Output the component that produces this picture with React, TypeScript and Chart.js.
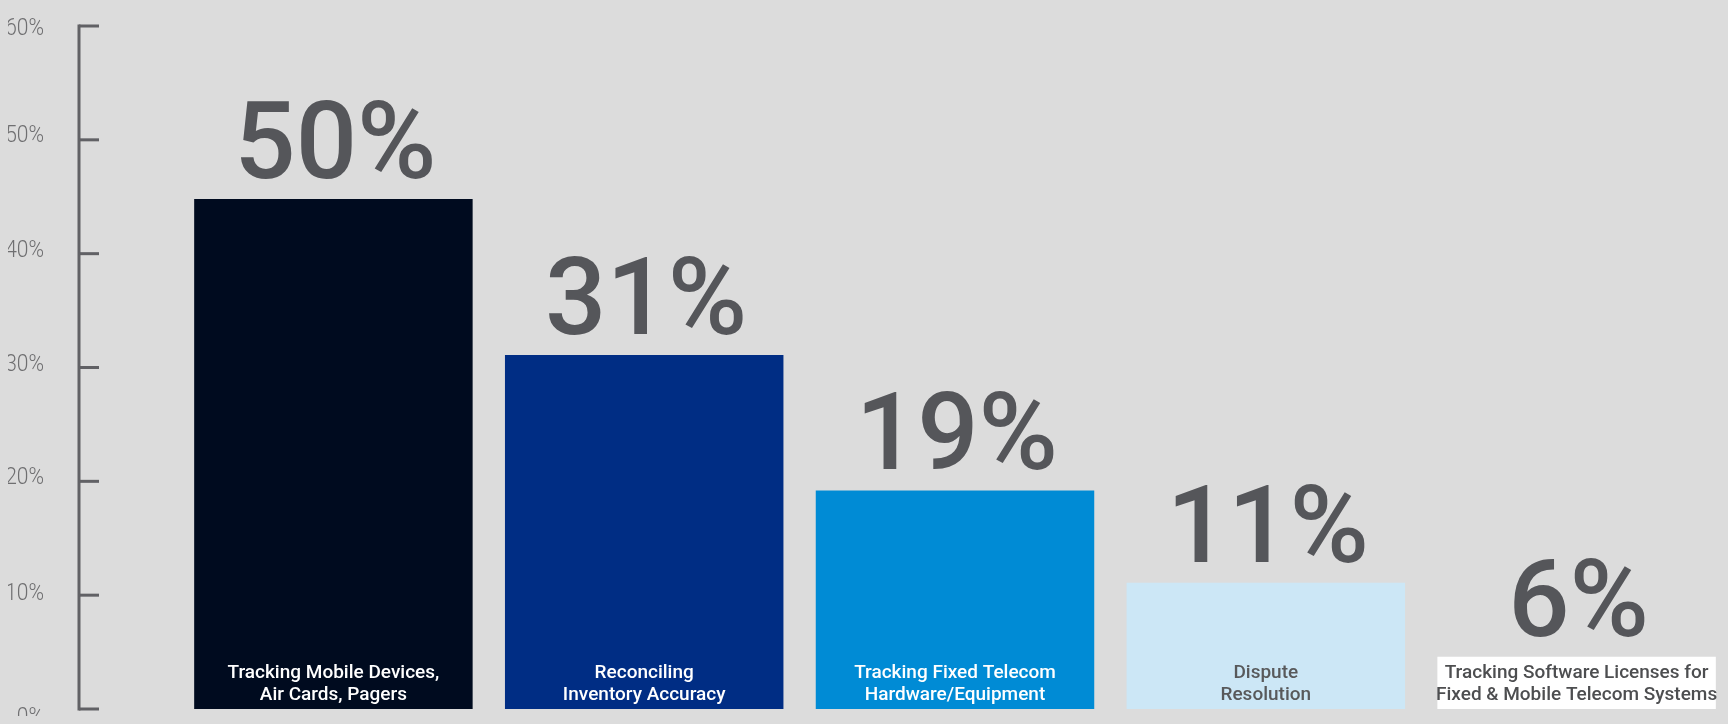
import React, { useEffect, useRef } from "react";
import { Chart, registerables } from "chart.js";

Chart.register(...registerables);

const categories: string[][] = [
  ["Tracking Mobile Devices,", "Air Cards, Pagers"],
  ["Reconciling", "Inventory Accuracy"],
  ["Tracking Fixed Telecom", "Hardware/Equipment"],
  ["Dispute", "Resolution"],
  ["Tracking Software Licenses for", "Fixed & Mobile Telecom Systems"],
];
const barHeights = [44.8, 31.1, 19.2, 11.1, 4.6];
const valueLabels = ["50%", "31%", "19%", "11%", "6%"];
const tickValues = [0, 10, 20, 30, 40, 50, 60];
const tickLabels = ["0%", "10%", "20%", "30%", "40%", "50%", "60%"];

const barColors = ["#000b1f", "#002d84", "#008bd5", "#cce7f6", "#ffffff"];
const barTextColors = ["#ffffff", "#ffffff", "#ffffff", "#58595b", "#4d4e50"];
// small vertical nudges of the axis labels, as set in the original artwork
const tickLabelNudge = [9.5, -1, -3.4, -2.7, -2.3, -3.7, 3.5];

const overlayPlugin = {
  id: "overlay",
  afterDatasetsDraw(chart: any) {
    const ctx = chart.ctx as CanvasRenderingContext2D;
    const meta = chart.getDatasetMeta(0);
    const yScale = chart.scales.y;
    ctx.save();
    // y axis line + inward ticks + labels
    const axisX = 79;
    ctx.strokeStyle = "#616165";
    ctx.lineWidth = 3;
    ctx.beginPath();
    ctx.moveTo(axisX, yScale.getPixelForValue(tickValues[tickValues.length - 1]) - 1.5);
    ctx.lineTo(axisX, yScale.getPixelForValue(tickValues[0]) + 1.5);
    ctx.stroke();
    tickValues.forEach((v, i) => {
      const y = yScale.getPixelForValue(v);
      ctx.beginPath();
      ctx.moveTo(axisX, y);
      ctx.lineTo(axisX + 20, y);
      ctx.stroke();
      ctx.save();
      ctx.translate(44, y + tickLabelNudge[i]);
      ctx.scale(1, 1.12);
      ctx.font = "300 21px Roboto";
      ctx.fillStyle = "#6f6f71";
      ctx.textAlign = "right";
      ctx.textBaseline = "middle";
      ctx.fillText(tickLabels[i], 0, 0);
      ctx.restore();
    });

    meta.data.forEach((bar: any, i: number) => {
      // big value label
      ctx.font = "500 108px Roboto";
      ctx.fillStyle = "#55565a";
      ctx.textAlign = "center";
      ctx.textBaseline = "alphabetic";
      ctx.fillText(valueLabels[i], bar.x + 2, bar.y - 21);
      // category label inside bar bottom
      ctx.font = "500 19px Roboto";
      ctx.fillStyle = barTextColors[i];
      const lines = categories[i];
      const base = bar.base;
      const lh = 21.6;
      lines.forEach((line, j) => {
        const yy = base - 9.5 - (lines.length - 1 - j) * lh;
        ctx.fillText(line, bar.x, yy);
      });
    });
    ctx.restore();
  },
};

export default function App() {
  const ref = useRef<HTMLCanvasElement | null>(null);
  useEffect(() => {
    document.body.style.background = "#dcdcdc";
    const canvas = ref.current!;
    const chart = new Chart(canvas, {
      type: "bar",
      data: {
        labels: categories.map((c) => c.join(" ")),
        datasets: [
          {
            data: barHeights,
            backgroundColor: barColors,
            borderWidth: 0,
            barPercentage: 0.896,
            categoryPercentage: 1,
          },
        ],
      },
      options: {
        animation: false,
        responsive: false,
        devicePixelRatio: 1,
        layout: { padding: { left: 178, right: 1, top: 26, bottom: 15 } },
        plugins: {
          legend: { display: false },
          tooltip: { enabled: false },
          title: { display: false },
        },
        scales: {
          x: { display: false, offset: true },
          y: { display: false, min: 0, max: 60 },
        },
      },
      plugins: [overlayPlugin],
    });
    return () => chart.destroy();
  }, []);
  return (
    <div style={{ width: 1728, height: 724, overflow: "hidden", background: "#dcdcdc", margin: -8 }}>
      <canvas ref={ref} width={1733} height={724} style={{ display: "block", width: 1733, height: 724 }} />
    </div>
  );
}
